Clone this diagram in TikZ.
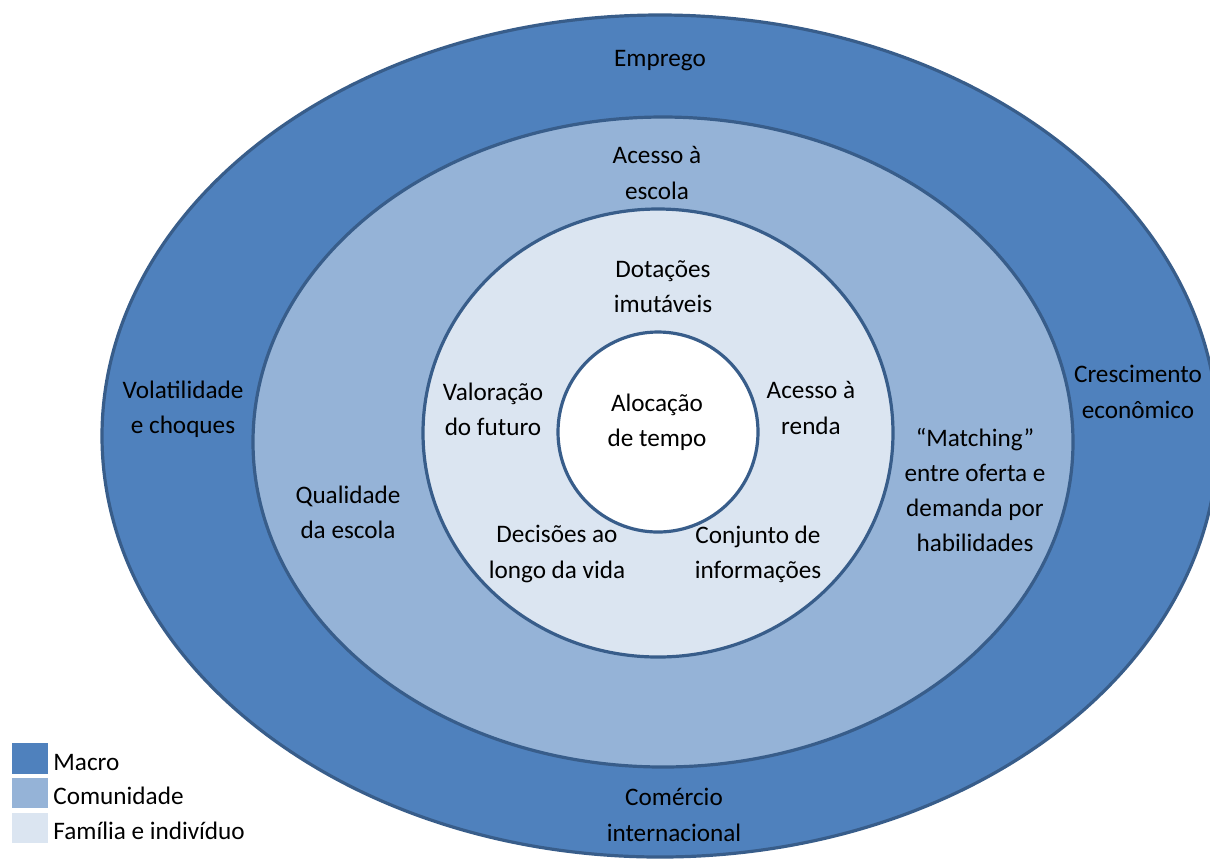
\documentclass[tikz,border=0pt]{standalone}
\usepackage{fontspec}
\setmainfont{Carlito}
\usepackage{tikz}

\definecolor{macro}{HTML}{4F81BD}
\definecolor{comunidade}{HTML}{95B3D7}
\definecolor{familia}{HTML}{DBE5F1}
\definecolor{borda}{HTML}{385D8A}

\tikzset{
  anel/.style={draw=borda, line width=1.6pt},
  rotulo/.style={align=center, inner sep=0pt, font=\fontsize{12.6}{17.6}\selectfont},
  legenda/.style={anchor=west, inner sep=0pt, font=\fontsize{12.6}{17.6}\selectfont},
}

\begin{document}
\begin{tikzpicture}[x=0.5pt,y=-0.5pt]
		\useasboundingbox (0,0) rectangle (1210,859);
		\fill[white] (0,0) rectangle (1210,859);
		\begin{scope}
		\clip (0,0) rectangle (1210,859);
		\draw[anel, fill=macro] (660,436) ellipse [x radius=558, y radius=421];
		\draw[anel, fill=comunidade] (663,442) ellipse [x radius=410, y radius=325];
		\draw[anel, fill=familia] (658,433) ellipse [x radius=235, y radius=224];
		\draw[anel, fill=white] (658,432) circle (100);
		\end{scope}
		% macro
		\node[rotulo] (emprego) at (660,61) {Emprego};
		\node[rotulo] (volatilidade) at (183,409) {Volatilidade\\e choques};
		\node[rotulo] (crescimento) at (1138,392) {Crescimento\\econômico};
		\node[rotulo] (comercio) at (674,815) {Comércio\\internacional};
		% comunidade
		\node[rotulo] (escola) at (657,173) {Acesso à\\escola};
		\node[rotulo] (qualidade) at (348,512) {Qualidade\\da escola};
		\node[rotulo] (matching) at (975,490) {“Matching”\\entre oferta e\\demanda por\\habilidades};
		% familia e individuo
		\node[rotulo] (dotacoes) at (663,287) {Dotações\\imutáveis};
		\node[rotulo] (valoracao) at (493,409) {Valoração\\do futuro};
		\node[rotulo] (renda) at (811,408) {Acesso à\\renda};
		\node[rotulo] (decisoes) at (557,554) {Decisões ao\\longo da vida};
		\node[rotulo] (conjunto) at (758,554) {Conjunto de\\informações};
		\node[rotulo] (alocacao) at (657,422) {Alocação\\de tempo};
		% legenda
		\fill[macro] (12,743) rectangle (48,774);
		\fill[comunidade] (12,778) rectangle (48,808);
		\fill[familia] (12,813) rectangle (48,843);
		\node[legenda] (lmacro) at (53,762) {Macro};
		\node[legenda] (lcomunidade) at (53,796) {Comunidade};
		\node[legenda] (lfamilia) at (53,831) {Família e indivíduo};
	\end{tikzpicture}
\end{document}
